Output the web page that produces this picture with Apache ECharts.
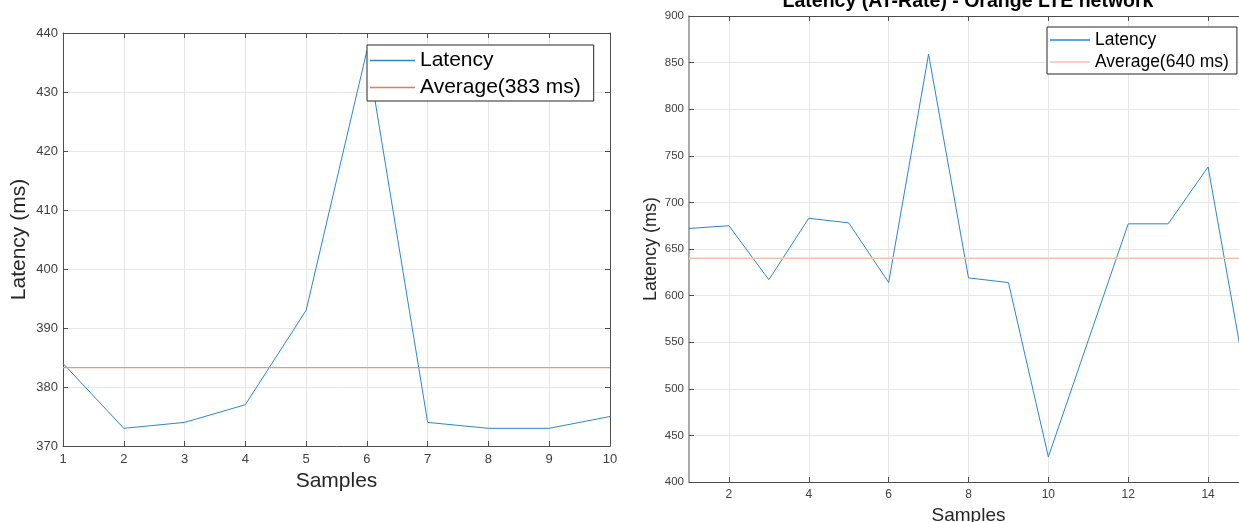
<!DOCTYPE html>
<html>
<head>
<meta charset="utf-8">
<title>Latency</title>
<script src="https://cdn.jsdelivr.net/npm/echarts@6/dist/echarts.min.js"></script>
<style>
html, body { margin: 0; padding: 0; background: #fff; }
#chart { width: 1239px; height: 522px; }
</style>
</head>
<body>
<div id="chart"></div>
<script>
// left figure: 10 samples
const samplesA = [1, 2, 3, 4, 5, 6, 7, 8, 9, 10]
const latencyA = [384, 373, 374, 377, 393, 437, 374, 373, 373, 375]
const averageA = 383.3
const avgNameA = 'Average(383 ms)'

// right figure: 15 samples, the picture is cut off on the right
const samplesB = [1, 2, 3, 4, 5, 6, 7, 8, 9, 10, 11, 12, 13, 14, 15]
const latencyB = [672, 675, 617, 683, 678, 614, 859, 619, 614, 427, 552, 677, 677, 738, 497]
const averageB = 640
const avgNameB = 'Average(640 ms)'
const xTicksB = [2, 4, 6, 8, 10, 12, 14]
const titleB = 'Latency (AT-Rate) - Orange LTE network'

const font = 'Liberation Sans, Arial, sans-serif'
const lineBlue = '#2b86cf'
const gridColor = '#e6e6e6'
const axisColor = '#4d4d4d'

const chart = echarts.init(document.getElementById('chart'))

function boxAxis (extra) {
  // top / right border of the matlab style box
  return Object.assign({
    type: 'value',
    axisLine: { show: true, onZero: false, lineStyle: { color: axisColor } },
    axisTick: { show: true, inside: true, length: 5, lineStyle: { color: axisColor } },
    axisLabel: { show: false },
    splitLine: { show: false }
  }, extra)
}

chart.setOption({
  animation: false,
  grid: [
    { left: 63, top: 33, width: 547, height: 413, outerBoundsMode: 'none', containLabel: false },
    { left: 689, top: 16, width: 559, height: 466, outerBoundsMode: 'none', containLabel: false }
  ],
  graphic: [
    {
      // title is mostly cut off at the top of the picture
      type: 'text',
      x: 968,
      y: 12,
      style: {
        text: titleB,
        align: 'center',
        verticalAlign: 'bottom',
        fontSize: 19.5,
        fontWeight: 'bold',
        fontFamily: font,
        fill: '#000'
      }
    }
  ],
  legend: [
    {
      data: ['Latency', avgNameA],
      orient: 'vertical',
      left: 367,
      top: 45,
      icon: 'rect',
      itemWidth: 45,
      itemHeight: 1.5,
      itemGap: 6,
      padding: [5, 13, 3, 3],
      borderColor: '#262626',
      borderWidth: 1,
      borderRadius: 0,
      backgroundColor: '#fff',
      textStyle: { fontSize: 21, color: '#000', fontFamily: font }
    },
    {
      data: ['Latency', avgNameB],
      orient: 'vertical',
      left: 1047,
      top: 27,
      icon: 'rect',
      itemWidth: 40,
      itemHeight: 1.5,
      itemGap: 4,
      padding: [4, 8, 3, 3],
      borderColor: '#262626',
      borderWidth: 1,
      borderRadius: 0,
      backgroundColor: '#fff',
      textStyle: { fontSize: 17.5, color: '#000', fontFamily: font }
    }
  ],
  xAxis: [
    {
      gridIndex: 0,
      type: 'value',
      min: 1,
      max: 10,
      interval: 1,
      name: 'Samples',
      nameLocation: 'middle',
      nameGap: 24,
      nameTextStyle: { fontSize: 21, color: '#262626', fontFamily: font },
      axisLine: { onZero: false, lineStyle: { color: axisColor } },
      axisTick: { inside: true, length: 5, lineStyle: { color: axisColor } },
      axisLabel: { fontSize: 13, color: '#404040', margin: 7, fontFamily: font },
      splitLine: { show: true, lineStyle: { color: gridColor } }
    },
    boxAxis({ gridIndex: 0, position: 'top', min: 1, max: 10, interval: 1 }),
    {
      gridIndex: 1,
      type: 'value',
      min: 1,
      max: 15,
      name: 'Samples',
      nameLocation: 'middle',
      nameGap: 21,
      nameTextStyle: { fontSize: 19, color: '#262626', fontFamily: font },
      axisLine: { onZero: false, lineStyle: { color: axisColor } },
      axisTick: { inside: true, length: 5, customValues: xTicksB, lineStyle: { color: axisColor } },
      axisLabel: { fontSize: 12, color: '#404040', margin: 7, customValues: xTicksB, fontFamily: font },
      splitLine: { show: true, customValues: xTicksB, lineStyle: { color: gridColor } }
    },
    boxAxis({
      gridIndex: 1,
      position: 'top',
      min: 1,
      max: 15,
      axisTick: { show: true, inside: true, length: 5, customValues: xTicksB, lineStyle: { color: axisColor } }
    })
  ],
  yAxis: [
    {
      gridIndex: 0,
      type: 'value',
      min: 370,
      max: 440,
      interval: 10,
      name: 'Latency (ms)',
      nameLocation: 'middle',
      nameGap: 33,
      nameTextStyle: { fontSize: 21, color: '#262626', fontFamily: font },
      axisLine: { show: true, onZero: false, lineStyle: { color: axisColor } },
      axisTick: { show: true, inside: true, length: 5, lineStyle: { color: axisColor } },
      axisLabel: { fontSize: 13, color: '#404040', margin: 5, fontFamily: font },
      splitLine: { show: true, lineStyle: { color: gridColor } }
    },
    boxAxis({ gridIndex: 0, position: 'right', min: 370, max: 440, interval: 10 }),
    {
      gridIndex: 1,
      type: 'value',
      min: 400,
      max: 900,
      interval: 50,
      name: 'Latency (ms)',
      nameLocation: 'middle',
      nameGap: 29,
      nameTextStyle: { fontSize: 18, color: '#262626', fontFamily: font },
      axisLine: { show: true, onZero: false, lineStyle: { color: '#8c8c8c', width: 1.5 } },
      axisTick: { show: true, inside: true, length: 5, lineStyle: { color: axisColor } },
      axisLabel: { fontSize: 11.5, color: '#404040', margin: 5, fontFamily: font },
      splitLine: { show: true, lineStyle: { color: gridColor } }
    }
  ],
  series: [
    {
      name: 'Latency',
      type: 'line',
      xAxisIndex: 0,
      yAxisIndex: 0,
      symbol: 'none',
      color: lineBlue,
      lineStyle: { width: 1, color: lineBlue },
      data: samplesA.map((s, i) => [s, latencyA[i]])
    },
    {
      name: avgNameA,
      type: 'line',
      xAxisIndex: 0,
      yAxisIndex: 0,
      symbol: 'none',
      color: '#e77a52',
      lineStyle: { width: 1.2, color: '#ee9572' },
      data: [[samplesA[0], averageA], [samplesA[samplesA.length - 1], averageA]]
    },
    {
      name: 'Latency',
      type: 'line',
      xAxisIndex: 2,
      yAxisIndex: 2,
      symbol: 'none',
      color: lineBlue,
      lineStyle: { width: 1, color: lineBlue },
      data: samplesB.map((s, i) => [s, latencyB[i]])
    },
    {
      name: avgNameB,
      type: 'line',
      xAxisIndex: 2,
      yAxisIndex: 2,
      symbol: 'none',
      color: '#f6c2ab',
      lineStyle: { width: 1.5, color: '#f6c2ab' },
      data: [[samplesB[0], averageB], [samplesB[samplesB.length - 1], averageB]]
    }
  ]
})
</script>
</body>
</html>
